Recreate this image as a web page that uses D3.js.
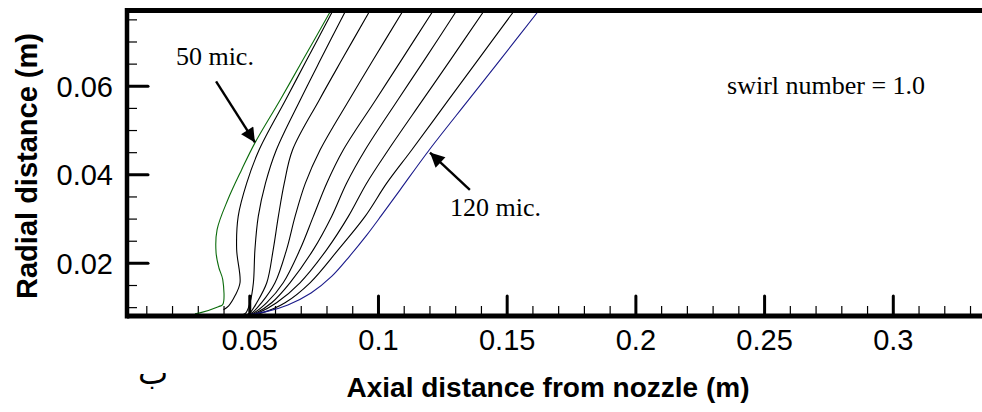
<!DOCTYPE html>
<html>
<head>
<meta charset="utf-8">
<script src="https://cdn.jsdelivr.net/npm/d3@7"></script>
<style>
  html, body { margin: 0; padding: 0; background: #fff; overflow: hidden; }
  svg { display: block; }
</style>
</head>
<body>
<div id="chart"></div>
<script>
// droplet trajectories, [axial (m), radial (m)], from 50 mic. (first) to 120 mic. (last)
const drop1 = [[0.0817,0.0770],[0.0708,0.0658],[0.0620,0.0568],[0.0522,0.0471],[0.0470,0.0410],[0.0417,0.0343],[0.0375,0.0275],[0.0371,0.0223],[0.0382,0.0189],[0.0397,0.0162],[0.0397,0.0106],[0.0380,0.0101],[0.0308,0.0087],[0.0289,0.0085]];
const drop2 = [[0.0825,0.0770],[0.0723,0.0658],[0.0641,0.0568],[0.0538,0.0455],[0.0490,0.0380],[0.0457,0.0305],[0.0451,0.0230],[0.0464,0.0155],[0.0444,0.0125],[0.0420,0.0103],[0.0400,0.0094]];
const drop3 = [[0.0875,0.0770],[0.0776,0.0658],[0.0698,0.0568],[0.0605,0.0455],[0.0563,0.0380],[0.0535,0.0305],[0.0522,0.0230],[0.0516,0.0155],[0.0503,0.0110],[0.0487,0.0087],[0.0472,0.0082]];
const drop4 = [[0.0969,0.0770],[0.0859,0.0658],[0.0772,0.0568],[0.0668,0.0455],[0.0636,0.0380],[0.0613,0.0305],[0.0593,0.0230],[0.0568,0.0155],[0.0529,0.0110],[0.0503,0.0087],[0.0487,0.0082]];
const drop5 = [[0.1098,0.0770],[0.0981,0.0658],[0.0888,0.0568],[0.0775,0.0455],[0.0718,0.0380],[0.0678,0.0305],[0.0645,0.0230],[0.0600,0.0155],[0.0548,0.0110],[0.0510,0.0087],[0.0491,0.0082]];
const drop6 = [[0.1215,0.0770],[0.1091,0.0658],[0.0991,0.0568],[0.0865,0.0455],[0.0801,0.0380],[0.0749,0.0305],[0.0697,0.0230],[0.0632,0.0155],[0.0568,0.0110],[0.0518,0.0087],[0.0495,0.0082]];
const drop7 = [[0.1306,0.0770],[0.1180,0.0658],[0.1077,0.0568],[0.0950,0.0455],[0.0878,0.0380],[0.0820,0.0305],[0.0749,0.0230],[0.0658,0.0155],[0.0587,0.0110],[0.0526,0.0087],[0.0499,0.0082]];
const drop8 = [[0.1413,0.0770],[0.1281,0.0658],[0.1174,0.0568],[0.1040,0.0455],[0.0956,0.0380],[0.0885,0.0305],[0.0801,0.0230],[0.0697,0.0155],[0.0606,0.0110],[0.0534,0.0087],[0.0503,0.0082]];
const drop9 = [[0.1530,0.0770],[0.1388,0.0658],[0.1274,0.0568],[0.1131,0.0455],[0.1034,0.0380],[0.0950,0.0305],[0.0846,0.0230],[0.0736,0.0155],[0.0639,0.0110],[0.0549,0.0087],[0.0507,0.0082]];
const drop10 = [[0.1625,0.0770],[0.1474,0.0658],[0.1352,0.0568],[0.1199,0.0455],[0.1086,0.0365],[0.1012,0.0306],[0.0954,0.0261],[0.0891,0.0216],[0.0821,0.0170],[0.0740,0.0132],[0.0650,0.0105],[0.0573,0.0091],[0.0495,0.0083]];

const axialTicks = [0.05, 0.1, 0.15, 0.2, 0.25, 0.3];
const radialTicks = [0.02, 0.04, 0.06];
const axialLabels = ["0.05", "0.1", "0.15", "0.2", "0.25", "0.3"];
const radialLabels = ["0.02", "0.04", "0.06"];

const W = 982, H = 412;
const svg = d3.select("#chart").append("svg")
    .attr("width", W)
    .attr("height", H);

const x = d3.scaleLinear().domain([0.0025, 0.35]).range([127, 1021.5]);
const y = d3.scaleLinear().domain([0.008, 0.077]).range([316, 10.5]);

const defs = svg.append("defs");
defs.append("clipPath").attr("id", "plot")
    .append("rect")
    .attr("x", x(0.0025)).attr("y", y(0.077))
    .attr("width", x(0.35) - x(0.0025)).attr("height", y(0.008) - y(0.077));

// minor ticks
const minorX = d3.range(1, 35).map(i => i / 100).filter(v => !axialTicks.some(t => Math.abs(t - v) < 1e-9));
const minorY = d3.range(2, 16).map(i => i * 0.005).filter(v => !radialTicks.some(t => Math.abs(t - v) < 1e-9));

svg.append("g")
    .attr("transform", `translate(0,${y(0.008)})`)
    .call(d3.axisBottom(x).tickValues(minorX).tickSize(-10).tickFormat(""))
    .call(g => g.select(".domain").remove())
    .selectAll("line").attr("stroke", "#000").attr("stroke-width", 1.2);

svg.append("g")
    .attr("transform", `translate(${x(0.0025)},0)`)
    .call(d3.axisLeft(y).tickValues(minorY).tickSize(-10).tickFormat(""))
    .call(g => g.select(".domain").remove())
    .selectAll("line").attr("stroke", "#000").attr("stroke-width", 1.2);

// major ticks + labels
const xAxis = svg.append("g")
    .attr("transform", `translate(0,${y(0.008)})`)
    .call(d3.axisBottom(x).tickValues(axialTicks).tickSize(-20).tickPadding(13)
        .tickFormat((d, i) => axialLabels[i]));
xAxis.select(".domain").remove();
xAxis.selectAll("line").attr("stroke", "#000").attr("stroke-width", 3).attr("stroke-linecap", "round");
xAxis.selectAll("text")
    .attr("fill", "#000")
    .style("font-family", "'Liberation Sans', Arial, sans-serif")
    .style("font-size", "29px");

const yAxis = svg.append("g")
    .attr("transform", `translate(${x(0.0025)},0)`)
    .call(d3.axisLeft(y).tickValues(radialTicks).tickSize(-21).tickPadding(14)
        .tickFormat((d, i) => radialLabels[i]));
yAxis.select(".domain").remove();
yAxis.selectAll("line").attr("stroke", "#000").attr("stroke-width", 3).attr("stroke-linecap", "round");
yAxis.selectAll("text")
    .attr("fill", "#000")
    .attr("dy", "0.36em")
    .style("font-family", "'Liberation Sans', Arial, sans-serif")
    .style("font-size", "29px");

// curves
const line = d3.line()
    .x(d => x(d[0]))
    .y(d => y(d[1]))
    .curve(d3.curveCatmullRom.alpha(0.5));

const blackDrops = [drop2, drop3, drop4, drop5, drop6, drop7, drop8, drop9];
const curves = svg.append("g").attr("clip-path", "url(#plot)").attr("fill", "none");

curves.selectAll(".drop-black")
    .data(blackDrops)
    .enter()
    .append("path")
    .attr("class", "drop-black")
    .attr("d", line)
    .attr("stroke", "#000")
    .attr("stroke-width", 1.1);

curves.append("path").datum(drop10)
    .attr("d", line)
    .attr("stroke", "#1a1a8a")
    .attr("stroke-width", 1.1);

curves.append("path").datum(drop1)
    .attr("d", line)
    .attr("stroke", "#0b6b0b")
    .attr("stroke-width", 1.1);

// frame
svg.append("line")
    .attr("x1", x(0.0025)).attr("x2", W + 5)
    .attr("y1", y(0.008)).attr("y2", y(0.008))
    .attr("stroke", "#000").attr("stroke-width", 5);
svg.append("line")
    .attr("x1", x(0.0025)).attr("x2", W + 5)
    .attr("y1", y(0.077)).attr("y2", y(0.077))
    .attr("stroke", "#000").attr("stroke-width", 5);
svg.append("line")
    .attr("x1", x(0.0025)).attr("x2", x(0.0025))
    .attr("y1", y(0.077) - 2.5).attr("y2", y(0.008) + 2.5)
    .attr("stroke", "#000").attr("stroke-width", 4.5);

// annotations
const serif = "'Liberation Serif', 'Times New Roman', serif";

defs.append("marker")
    .attr("id", "arrowhead")
    .attr("viewBox", "0 0 10 10")
    .attr("refX", 10).attr("refY", 5)
    .attr("markerWidth", 7).attr("markerHeight", 6)
    .attr("markerUnits", "strokeWidth")
    .attr("orient", "auto")
    .append("path")
    .attr("d", "M0,0 L10,5 L0,10 Z")
    .attr("fill", "#000");

const arrows = [
    {from: [0.0371, 0.0610], to: [0.0522, 0.0472]},
    {from: [0.1357, 0.0365], to: [0.1202, 0.0449]}
];
svg.selectAll(".arrow")
    .data(arrows)
    .enter()
    .append("line")
    .attr("class", "arrow")
    .attr("x1", d => x(d.from[0])).attr("y1", d => y(d.from[1]))
    .attr("x2", d => x(d.to[0])).attr("y2", d => y(d.to[1]))
    .attr("stroke", "#000")
    .attr("stroke-width", 2.4)
    .attr("marker-end", "url(#arrowhead)");

const notes = [
    {text: "50 mic.", at: [0.0215, 0.0648]},
    {text: "120 mic.", at: [0.1280, 0.0305]},
    {text: "swirl number = 1.0", at: [0.2356, 0.0581]}
];
svg.selectAll(".note")
    .data(notes)
    .enter()
    .append("text")
    .attr("class", "note")
    .attr("x", d => x(d.at[0]))
    .attr("y", d => y(d.at[1]))
    .style("font-family", serif)
    .style("font-size", "26px")
    .attr("fill", "#000")
    .text(d => d.text);

// axis titles
svg.append("text")
    .attr("x", 548)
    .attr("y", 397)
    .attr("text-anchor", "middle")
    .style("font-family", "'Liberation Sans', Arial, sans-serif")
    .style("font-weight", "bold")
    .style("font-size", "28px")
    .text("Axial distance from nozzle (m)");

svg.append("text")
    .attr("transform", "translate(37,166) rotate(-90)")
    .attr("text-anchor", "middle")
    .style("font-family", "'Liberation Sans', Arial, sans-serif")
    .style("font-weight", "bold")
    .style("font-size", "29px")
    .text("Radial distance (m)");

svg.append("text")
    .attr("x", 153)
    .attr("y", 384)
    .attr("text-anchor", "middle")
    .style("font-family", "'DejaVu Sans', sans-serif")
    .style("font-size", "32px")
    .text("ب");
</script>
</body>
</html>
